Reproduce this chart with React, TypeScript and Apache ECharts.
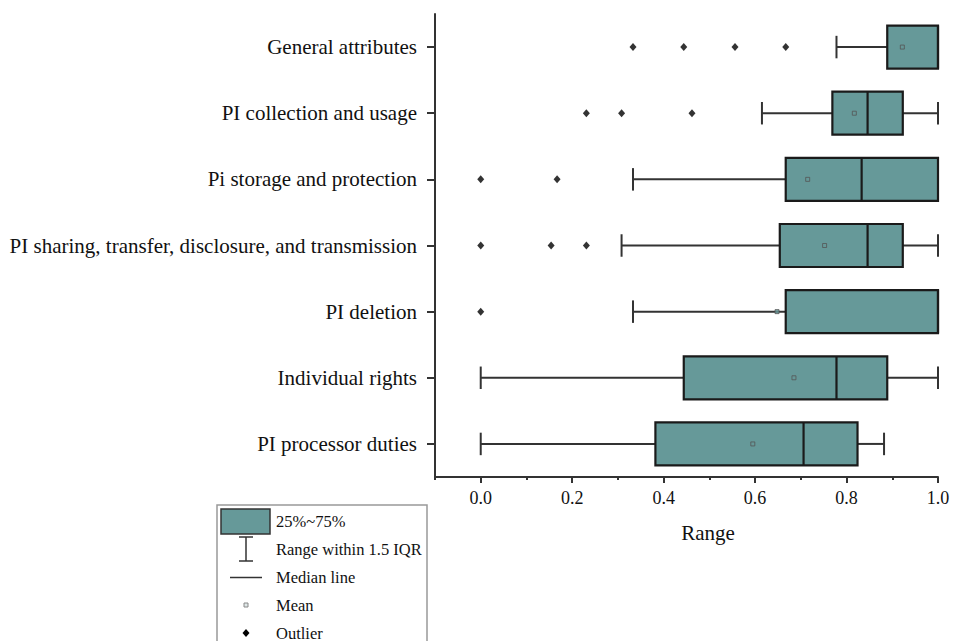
import React, { useEffect, useRef } from "react";
import * as echarts from "echarts";

const categories = [
  "General attributes",
  "PI collection and usage",
  "Pi storage and protection",
  "PI sharing, transfer, disclosure, and transmission",
  "PI deletion",
  "Individual rights",
  "PI processor duties",
];
const whiskerLow = [0.778, 0.615, 0.333, 0.308, 0.333, 0.0, 0.0];
const q1 = [0.889, 0.769, 0.667, 0.654, 0.667, 0.444, 0.382];
const median = [1.0, 0.846, 0.833, 0.846, 1.0, 0.778, 0.706];
const q3 = [1.0, 0.923, 1.0, 0.923, 1.0, 0.889, 0.824];
const whiskerHigh = [1.0, 1.0, 1.0, 1.0, 1.0, 1.0, 0.882];
const means = [0.922, 0.817, 0.715, 0.752, 0.648, 0.685, 0.595];
const outliers: number[][] = [
  [0.333, 0.444, 0.556, 0.667],
  [0.231, 0.308, 0.462],
  [0.0, 0.167],
  [0.0, 0.154, 0.231],
  [0.0],
  [],
  [],
];
const tickValues = [0, 0.2, 0.4, 0.6, 0.8, 1.0];
const legendLabels = ["25%~75%", "Range within 1.5 IQR", "Median line", "Mean", "Outlier"];

const TEAL = "#669999";
const DARK = "#111";
const FONT = "Liberation Serif";

export default function App() {
  const ref = useRef<HTMLDivElement>(null);
  useEffect(() => {
    if (!ref.current) return;
    const chart = echarts.init(ref.current, undefined, { renderer: "svg" });

    const boxData = categories.map((_, i) => [i, whiskerLow[i], q1[i], median[i], q3[i], whiskerHigh[i]]);
    const meanData = categories.map((_, i) => [means[i], i]);
    const outlierData: number[][] = [];
    outliers.forEach((arr, i) => arr.forEach((v) => outlierData.push([v, i])));

    const lx = 246;
    const textX = 276;
    const rows = [521, 549, 577, 605, 633];

    chart.setOption({
      animation: false,
      grid: { left: 435, right: 36, top: 14, bottom: 164 },
      xAxis: [
        {
          type: "value",
          min: -0.1,
          max: 1.0,
          position: "bottom",
          axisLine: { show: true, lineStyle: { color: "#333", width: 2 } },
          axisTick: { show: true, length: 6, lineStyle: { color: "#333", width: 2 }, customValues: tickValues },
          axisLabel: {
            customValues: tickValues,
            formatter: (v: number) => v.toFixed(1),
            fontFamily: FONT,
            fontSize: 18,
            color: DARK,
            margin: 12,
          },
          splitLine: { show: false },
        },
        {
          type: "value",
          min: -0.1,
          max: 1.0,
          interval: 0.1,
          position: "bottom",
          axisLine: { show: false },
          axisTick: { show: true, length: 3, lineStyle: { color: "#333", width: 2 } },
          axisLabel: { show: false },
          splitLine: { show: false },
        },
      ],
      yAxis: {
        type: "category",
        data: categories,
        inverse: true,
        axisLine: { show: true, onZero: false, lineStyle: { color: "#333", width: 2 } },
        axisTick: { show: true, alignWithLabel: true, length: 8, lineStyle: { color: "#333", width: 2 } },
        axisLabel: { fontFamily: FONT, fontSize: 21, color: DARK, margin: 18 },
        splitLine: { show: false },
      },
      series: [
        {
          type: "custom",
          xAxisIndex: 0,
          encode: { x: [1, 2, 3, 4, 5], y: 0 },
          data: boxData,
          renderItem: (params: any, api: any) => {
            const cat = api.value(0);
            const pLo = api.coord([api.value(1), cat]);
            const pQ1 = api.coord([api.value(2), cat]);
            const pMed = api.coord([api.value(3), cat]);
            const pQ3 = api.coord([api.value(4), cat]);
            const pHi = api.coord([api.value(5), cat]);
            const band = api.size([0, 1])[1];
            const bh = band * 0.65;
            const ch = band * 0.34;
            const y = pLo[1];
            const wStyle = { stroke: "#333", lineWidth: 2 };
            const children: any[] = [];
            if (pQ1[0] - pLo[0] > 0.5) {
              children.push({ type: "line", shape: { x1: pLo[0], y1: y, x2: pQ1[0], y2: y }, style: wStyle });
              children.push({ type: "line", shape: { x1: pLo[0], y1: y - ch / 2, x2: pLo[0], y2: y + ch / 2 }, style: wStyle });
            }
            if (pHi[0] - pQ3[0] > 0.5) {
              children.push({ type: "line", shape: { x1: pQ3[0], y1: y, x2: pHi[0], y2: y }, style: wStyle });
              children.push({ type: "line", shape: { x1: pHi[0], y1: y - ch / 2, x2: pHi[0], y2: y + ch / 2 }, style: wStyle });
            }
            children.push({
              type: "rect",
              shape: { x: pQ1[0], y: y - bh / 2, width: pQ3[0] - pQ1[0], height: bh },
              style: { fill: TEAL, stroke: "#1a1a1a", lineWidth: 2.2 },
            });
            children.push({
              type: "line",
              shape: { x1: pMed[0], y1: y - bh / 2, x2: pMed[0], y2: y + bh / 2 },
              style: { stroke: "#1a1a1a", lineWidth: 2.2 },
            });
            return { type: "group", children };
          },
          z: 2,
        },
        {
          type: "scatter",
          xAxisIndex: 0,
          data: meanData,
          symbol: "rect",
          symbolSize: 4,
          itemStyle: { color: TEAL, borderColor: "#555", borderWidth: 1 },
          z: 5,
        },
        {
          type: "scatter",
          xAxisIndex: 0,
          data: outlierData,
          symbol: "diamond",
          symbolSize: [7, 8],
          itemStyle: { color: "#000" },
          z: 5,
        },
      ],
      graphic: [
        {
          type: "text",
          x: 708,
          y: 533,
          style: { text: "Range", fontFamily: FONT, fontSize: 21, fill: DARK, align: "center", verticalAlign: "middle" },
        },
        {
          type: "rect",
          shape: { x: 217, y: 505, width: 210, height: 160 },
          style: { fill: "none", stroke: "#999", lineWidth: 1.5 },
        },
        {
          type: "rect",
          shape: { x: 221, y: 509, width: 49, height: 25 },
          style: { fill: TEAL, stroke: "#333", lineWidth: 1.5 },
        },
        { type: "line", shape: { x1: lx, y1: 537, x2: lx, y2: 561 }, style: { stroke: "#333", lineWidth: 1.5 } },
        { type: "line", shape: { x1: lx - 7, y1: 537, x2: lx + 7, y2: 537 }, style: { stroke: "#333", lineWidth: 1.5 } },
        { type: "line", shape: { x1: lx - 7, y1: 561, x2: lx + 7, y2: 561 }, style: { stroke: "#333", lineWidth: 1.5 } },
        { type: "line", shape: { x1: 230, y1: 577.5, x2: 262, y2: 577.5 }, style: { stroke: "#333", lineWidth: 1.5 } },
        { type: "rect", shape: { x: lx - 2, y: 603, width: 4, height: 4 }, style: { fill: "#dfe8e8", stroke: "#888", lineWidth: 1 } },
        {
          type: "polygon",
          shape: { points: [[lx, 629], [lx + 3.5, 633], [lx, 637], [lx - 3.5, 633]] },
          style: { fill: "#000" },
        },
        ...legendLabels.map((t, i) => ({
          type: "text",
          x: textX,
          y: rows[i],
          style: { text: t, fontFamily: FONT, fontSize: 16.5, fill: DARK, align: "left", verticalAlign: "middle" },
        })),
      ],
    });
    return () => chart.dispose();
  }, []);
  return <div ref={ref} style={{ position: "absolute", left: 0, top: 0, width: 974, height: 641 }} />;
}
